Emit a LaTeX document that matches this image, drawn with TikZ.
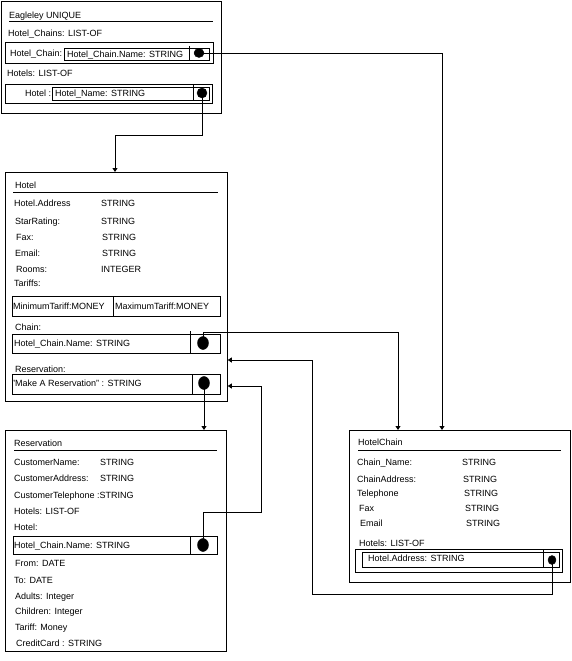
\documentclass[tikz,border=0pt]{standalone}
\usepackage{fontspec}
\setmainfont{Liberation Sans}
\usetikzlibrary{arrows.meta,shapes.geometric}
\begin{document}
\begin{tikzpicture}[x=1pt,y=-1pt,
  txt/.style={inner sep=0pt, anchor=west, font=\fontsize{9}{10}\selectfont, text height=6.5pt, text depth=0pt},
  frame/.style={draw, line width=0.8pt, anchor=north west, inner sep=0pt},
  rule/.style={line width=0.8pt},
  dot/.style={ellipse, fill, draw, inner sep=0pt, minimum width=11pt, minimum height=13pt},
  arr/.style={line width=0.8pt, -{Triangle[length=4pt,width=5pt]}}]
\useasboundingbox (0,0) rectangle (571,661);

% ---------- Eagleley ----------
\node[frame, minimum width=220pt, minimum height=112pt] (eag) at (1,1) {};
\draw[rule] (9,21) -- (213,21);
\node[frame, minimum width=208pt, minimum height=21pt] (eo1) at (5,42) {};
\node[frame, minimum width=145pt, minimum height=12pt] (ei1) at (64,48) {};
\draw[rule] (189,46) -- (189,60);
\node[frame, minimum width=207pt, minimum height=19pt] (eo2) at (5,84) {};
\node[frame, minimum width=157pt, minimum height=13pt] (ei2) at (52,87) {};
\draw[rule] (193,85) -- (193,100);
\node[dot, minimum width=10pt, minimum height=9pt] (ecd1) at (199,53) {};
\node[dot, minimum width=10pt, minimum height=10pt] (ecd2) at (202,93) {};
\node[txt] (e1) at (9,15) {Eagleley UNIQUE};
\node[txt] (e2) at (8,33) {Hotel\_Chains: LIST-OF};
\node[txt] (e3) at (10,53) {Hotel\_Chain:};
\node[txt] (e4) at (67,54) {Hotel\_Chain.Name: STRING};
\node[txt] (e5) at (7,73) {Hotels: LIST-OF};
\node[txt] (e6) at (25,93) {Hotel :};
\node[txt] (e7) at (55,93) {Hotel\_Name: STRING};

% ---------- Hotel ----------
\node[frame, minimum width=222pt, minimum height=229pt] (hotel) at (5,172) {};
\draw[rule] (13,192) -- (218,192);
\node[frame, minimum width=208pt, minimum height=20pt] (tar) at (12,296) {};
\draw[rule] (113,296) -- (113,316);
\node[frame, minimum width=208pt, minimum height=19pt] (chb) at (12,334) {};
\draw[rule] (190,331) -- (190,353);
\node[frame, minimum width=208pt, minimum height=20pt] (rsb) at (12,374) {};
\draw[rule] (192,374) -- (192,394);
\node[dot] (hd1) at (203,343) {};
\node[dot] (hd2) at (204,383) {};
\node[txt] (h0) at (15,185) {Hotel};
\node[txt] (h1) at (14,203) {Hotel.Address};
\node[txt] (h1v) at (101,203) {STRING};
\node[txt] (h2) at (15,221) {StarRating:};
\node[txt] (h2v) at (101,221) {STRING};
\node[txt] (h3) at (16,237) {Fax:};
\node[txt] (h3v) at (102,237) {STRING};
\node[txt] (h4) at (15,253) {Email:};
\node[txt] (h4v) at (102,253) {STRING};
\node[txt] (h5) at (16,269) {Rooms:};
\node[txt] (h5v) at (101,269) {INTEGER};
\node[txt] (h6) at (14,283) {Tariffs:};
\node[txt] (h7) at (13,306) {MinimumTariff:MONEY};
\node[txt] (h8) at (115,306) {MaximumTariff:MONEY};
\node[txt] (h9) at (15,327) {Chain:};
\node[txt] (h10) at (14,343) {Hotel\_Chain.Name: STRING};
\node[txt] (h11) at (15,369) {Reservation:};
\node[txt] (h12) at (12,383) {"Make A Reservation" : STRING};

% ---------- Reservation ----------
\node[frame, minimum width=221pt, minimum height=221pt] (res) at (5,430) {};
\draw[rule] (14,450) -- (217,450);
\node[frame, minimum width=204pt, minimum height=18pt] (rhb) at (13,536) {};
\draw[rule] (190,536) -- (190,554);
\node[dot] (rd) at (203,545) {};
\node[txt] (r0) at (14,443) {Reservation};
\node[txt] (r1) at (14,462) {CustomerName:};
\node[txt] (r1v) at (100,462) {STRING};
\node[txt] (r2) at (14,478) {CustomerAddress:};
\node[txt] (r2v) at (100,478) {STRING};
\node[txt] (r3) at (14,495) {CustomerTelephone :STRING};
\node[txt] (r4) at (14,511) {Hotels: LIST-OF};
\node[txt] (r5) at (14,527) {Hotel:};
\node[txt] (r6) at (14,545) {Hotel\_Chain.Name: STRING};
\node[txt] (r7) at (15,563) {From: DATE};
\node[txt] (r8) at (14,580) {To: DATE};
\node[txt] (r9) at (15,596) {Adults: Integer};
\node[txt] (r10) at (15,611) {Children: Integer};
\node[txt] (r11) at (15,627) {Tariff: Money};
\node[txt] (r12) at (16,643) {CreditCard : STRING};

% ---------- HotelChain ----------
\node[frame, minimum width=221pt, minimum height=152pt] (hc) at (349,430) {};
\draw[rule] (358,450) -- (561,450);
\node[frame, minimum width=207pt, minimum height=23pt] (hco) at (355,549) {};
\node[frame, minimum width=197pt, minimum height=15pt] (hci) at (362,552) {};
\draw[rule] (543,549) -- (543,567);
\node[dot, minimum width=8pt, minimum height=9pt] (hcd) at (552,560) {};
\node[txt] (c0) at (358,442) {HotelChain};
\node[txt] (c1) at (357,462) {Chain\_Name:};
\node[txt] (c1v) at (462,462) {STRING};
\node[txt] (c2) at (357,479) {ChainAddress:};
\node[txt] (c2v) at (463,479) {STRING};
\node[txt] (c3) at (357,493) {Telephone};
\node[txt] (c3v) at (464,493) {STRING};
\node[txt] (c4) at (359,508) {Fax};
\node[txt] (c4v) at (465,508) {STRING};
\node[txt] (c5) at (360,523) {Email};
\node[txt] (c5v) at (466,523) {STRING};
\node[txt] (c6) at (359,543) {Hotels: LIST-OF};
\node[txt] (c7) at (368,558) {Hotel.Address: STRING};

% ---------- connectors ----------
\draw[arr] (ecd1.center) -| ([xshift=93pt]hc.north west);
\draw[arr] (ecd2.center) -- ++(0,42) -| ([xshift=110pt]hotel.north west);
\draw[arr] (hd1.center) -- ++(0,-11) -| ([xshift=49pt]hc.north west);
\draw[arr] (hd2.center) -- (hd2.center |- res.north);
\draw[arr] (rd.center) -- ++(0,-33) -- ++(58,0) |- ([yshift=-214pt]hotel.north east);
\draw[arr] (hcd.center) -- ++(0,34) -- ++(-240,0) |- ([yshift=-188pt]hotel.north east);
\end{tikzpicture}
\end{document}
